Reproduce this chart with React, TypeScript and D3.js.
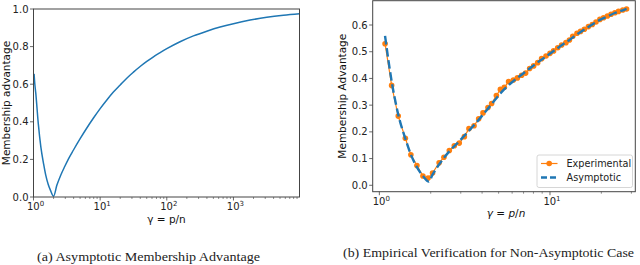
import React from "react";
import * as d3 from "d3";

// ---- Panel (a): asymptotic membership advantage ----
const gammaA = [1.02, 1.047, 1.08, 1.18, 1.29, 1.42, 1.53, 1.66, 1.80, 2.0, 2.24, 2.57, 2.94, 3.35, 3.98, 5.01, 6.31, 7.94, 10, 12.6, 15.8, 20, 25.1, 31.6, 39.8, 50.1, 63.1, 79.4, 100, 158, 251, 398, 631, 1000, 1778, 3162, 5623, 9800];
const advA = [0.655, 0.6, 0.555, 0.39, 0.265, 0.175, 0.115, 0.068, 0.035, 0.004, 0.062, 0.117, 0.162, 0.203, 0.25, 0.31, 0.367, 0.42, 0.47, 0.516, 0.558, 0.596, 0.632, 0.664, 0.694, 0.721, 0.746, 0.768, 0.789, 0.826, 0.857, 0.882, 0.904, 0.922, 0.941, 0.956, 0.967, 0.975];
const yTicksA = [0, 0.2, 0.4, 0.6, 0.8, 1.0];
const xExpA = [0, 1, 2, 3];

// ---- Panel (b): empirical verification ----
const gammaExp = [1.08, 1.18, 1.29, 1.42, 1.53, 1.66, 1.80, 1.93, 2.05, 2.24, 2.39, 2.57, 2.75, 2.94, 3.15, 3.35, 3.59, 3.82, 4.05, 4.33, 4.55, 4.85, 5.12, 5.40, 5.72, 6.10, 6.44, 6.82, 7.20, 7.60, 8.02, 8.47, 8.93, 9.48, 10.0, 10.5, 11.1, 11.7, 12.4, 13.0, 13.6, 14.4, 15.1, 15.9, 16.8, 17.7, 18.6, 19.6, 20.6, 21.7, 22.8, 24.0, 25.2, 26.7, 28.1];
const advExp = [0.53, 0.374, 0.259, 0.176, 0.114, 0.074, 0.035, 0.027, 0.046, 0.084, 0.105, 0.13, 0.148, 0.158, 0.182, 0.212, 0.223, 0.249, 0.271, 0.291, 0.306, 0.336, 0.359, 0.367, 0.388, 0.394, 0.402, 0.412, 0.42, 0.437, 0.447, 0.459, 0.474, 0.484, 0.494, 0.503, 0.515, 0.525, 0.534, 0.544, 0.558, 0.569, 0.576, 0.584, 0.594, 0.602, 0.611, 0.621, 0.627, 0.634, 0.64, 0.646, 0.651, 0.656, 0.66];
const gammaAsym = [1.08, 1.18, 1.29, 1.42, 1.53, 1.66, 1.80, 1.95, 2.05, 2.24, 2.57, 2.94, 3.35, 3.82, 4.33, 4.85, 5.40, 6.10, 6.82, 7.60, 8.47, 9.48, 10.5, 11.7, 13.0, 14.4, 15.9, 17.7, 19.6, 21.7, 24.0, 26.7, 28.1];
const advAsym = [0.559, 0.39, 0.265, 0.175, 0.115, 0.068, 0.035, 0.014, 0.04, 0.078, 0.127, 0.165, 0.204, 0.245, 0.287, 0.326, 0.36, 0.39, 0.414, 0.437, 0.46, 0.482, 0.503, 0.524, 0.544, 0.565, 0.583, 0.602, 0.619, 0.632, 0.645, 0.655, 0.66];
const yTicksB = [0, 0.1, 0.2, 0.3, 0.4, 0.5, 0.6];
const xExpB = [0, 1];
const legendLabels = ["Experimental", "Asymptotic"];

const BLUE = "#1f77b4";
const ORANGE = "#ff7f0e";
const SPINE = "#444";
const FONT = "DejaVu Sans, sans-serif";

function minorTicks(lo: number, hi: number) {
  const out: number[] = [];
  for (let e = Math.floor(Math.log10(lo)); e <= Math.ceil(Math.log10(hi)); e++) {
    for (let m = 2; m <= 9; m++) {
      const v = m * Math.pow(10, e);
      if (v > lo && v < hi) out.push(v);
    }
  }
  return out;
}

function PowLabel({ x, y, exp }: { x: number; y: number; exp: number }) {
  return (
    <text x={x} y={y} textAnchor="middle" fontFamily={FONT} fontSize={10} fill="#222">
      10<tspan dy={-4} fontSize={7}>{exp}</tspan>
    </text>
  );
}

export default function App() {
  // Panel (a) geometry
  const a = { l: 33.5, r: 299.5, t: 9, b: 197 };
  const xA = d3.scaleLog().domain([1, 9800]).range([a.l, a.r]);
  const yA = d3.scaleLinear().domain([0, 1]).range([a.b, a.t]);
  const lineA = d3.line<number>().x((_, i) => xA(gammaA[i])).y((d) => yA(d)).curve(d3.curveMonotoneX);

  // Panel (b) geometry
  const b = { l: 372.7, r: 635.3, t: 0.7, b: 191.7 };
  const xB = d3.scaleLog().domain([Math.pow(10, -0.039), Math.pow(10, 1.5)]).range([b.l, b.r]);
  const yB = d3.scaleLinear().domain([-0.024, 0.691]).range([b.b, b.t]);
  const lineExp = d3.line<number>().x((_, i) => xB(gammaExp[i])).y((d) => yB(d));
  const lineAsym = d3.line<number>().x((_, i) => xB(gammaAsym[i])).y((d) => yB(d)).curve(d3.curveMonotoneX);

  const minorA = minorTicks(1, 9800);
  const minorB = minorTicks(xB.domain()[0], xB.domain()[1]);

  return (
    <svg width={640} height={265} style={{ position: "absolute", left: 0, top: 0 }}>
      <rect width={640} height={265} fill="#fff" />
      {/* ---------- Panel (a) ---------- */}
      <defs>
        <clipPath id="clipA"><rect x={a.l} y={a.t} width={a.r - a.l} height={a.b - a.t} /></clipPath>
        <clipPath id="clipB"><rect x={b.l} y={b.t - 2} width={b.r - b.l} height={b.b - b.t + 2} /></clipPath>
      </defs>
      <path d={lineA(advA) || ""} fill="none" stroke={BLUE} strokeWidth={1.5} clipPath="url(#clipA)" />
      <rect x={a.l} y={a.t} width={a.r - a.l} height={a.b - a.t} fill="none" stroke={SPINE} strokeWidth={1} />
      {yTicksA.map((t) => (
        <g key={"ya" + t}>
          <line x1={a.l - 3.5} x2={a.l} y1={yA(t)} y2={yA(t)} stroke={SPINE} strokeWidth={0.8} />
          <text x={a.l - 5} y={yA(t) + 3.6} textAnchor="end" fontFamily={FONT} fontSize={10} fill="#222">{t.toFixed(1)}</text>
        </g>
      ))}
      {xExpA.map((e) => (
        <g key={"xa" + e}>
          <line x1={xA(Math.pow(10, e))} x2={xA(Math.pow(10, e))} y1={a.b} y2={a.b + 3.5} stroke={SPINE} strokeWidth={0.8} />
          <PowLabel x={xA(Math.pow(10, e)) + 2} y={a.b + 13} exp={e} />
        </g>
      ))}
      {minorA.map((v, i) => (
        <line key={"ma" + i} x1={xA(v)} x2={xA(v)} y1={a.b} y2={a.b + 2} stroke={SPINE} strokeWidth={0.6} />
      ))}
      <text x={(a.l + a.r) / 2} y={222.5} textAnchor="middle" fontFamily={FONT} fontSize={10.5} fill="#111">γ = p/n</text>
      <text transform={`translate(9.5,${(a.t + a.b) / 2}) rotate(-90)`} textAnchor="middle" fontFamily={FONT} fontSize={10.5} fill="#111">Membership advantage</text>
      <text x={148.5} y={261} textAnchor="middle" fontFamily="Liberation Serif, serif" fontSize={13} textLength={223} lengthAdjust="spacingAndGlyphs" fill="#222">(a) Asymptotic Membership Advantage</text>

      {/* ---------- Panel (b) ---------- */}
      <g clipPath="url(#clipB)">
        <path d={lineExp(advExp) || ""} fill="none" stroke={ORANGE} strokeWidth={1.2} />
        {advExp.map((v, i) => (
          <circle key={"pe" + i} cx={xB(gammaExp[i])} cy={yB(v)} r={2.8} fill={ORANGE} />
        ))}
        <path d={lineAsym(advAsym) || ""} fill="none" stroke={BLUE} strokeWidth={2.4} strokeDasharray="8.5,3.7" />
      </g>
      <rect x={b.l} y={b.t} width={b.r - b.l} height={b.b - b.t} fill="none" stroke={SPINE} strokeWidth={1} />
      {yTicksB.map((t) => (
        <g key={"yb" + t}>
          <line x1={b.l - 3.5} x2={b.l} y1={yB(t)} y2={yB(t)} stroke={SPINE} strokeWidth={0.8} />
          <text x={b.l - 5} y={yB(t) + 3.6} textAnchor="end" fontFamily={FONT} fontSize={10} fill="#222">{t.toFixed(1)}</text>
        </g>
      ))}
      {xExpB.map((e) => (
        <g key={"xb" + e}>
          <line x1={xB(Math.pow(10, e))} x2={xB(Math.pow(10, e))} y1={b.b} y2={b.b + 3.5} stroke={SPINE} strokeWidth={0.8} />
          <PowLabel x={xB(Math.pow(10, e)) + 2} y={b.b + 13} exp={e} />
        </g>
      ))}
      {minorB.map((v, i) => (
        <line key={"mb" + i} x1={xB(v)} x2={xB(v)} y1={b.b} y2={b.b + 2} stroke={SPINE} strokeWidth={0.6} />
      ))}
      <text x={506} y={216.5} textAnchor="middle" fontFamily={FONT} fontSize={10.5} fill="#111">
        <tspan fontStyle="italic">γ</tspan> = <tspan fontStyle="italic">p</tspan>/<tspan fontStyle="italic">n</tspan>
      </text>
      <text transform={`translate(346,${(b.t + b.b) / 2}) rotate(-90)`} textAnchor="middle" fontFamily={FONT} fontSize={10.5} fill="#111">Membership Advantage</text>

      {/* legend */}
      <rect x={537} y={155} width={95.5} height={32.5} rx={2} fill="#fff" fillOpacity={0.85} stroke="#ccc" strokeWidth={0.8} />
      <line x1={541} x2={557.5} y1={163.5} y2={163.5} stroke={ORANGE} strokeWidth={1.2} />
      <circle cx={549.2} cy={163.5} r={2.8} fill={ORANGE} />
      <line x1={541} x2={557.5} y1={177.5} y2={177.5} stroke={BLUE} strokeWidth={2.4} strokeDasharray="6,3" />
      <text x={566.5} y={167} fontFamily={FONT} fontSize={9.7} fill="#222">{legendLabels[0]}</text>
      <text x={566.5} y={181} fontFamily={FONT} fontSize={9.7} fill="#222">{legendLabels[1]}</text>

      <text x={488.5} y={257} textAnchor="middle" fontFamily="Liberation Serif, serif" fontSize={13} textLength={291} lengthAdjust="spacingAndGlyphs" fill="#222">(b) Empirical Verification for Non-Asymptotic Case</text>
    </svg>
  );
}
